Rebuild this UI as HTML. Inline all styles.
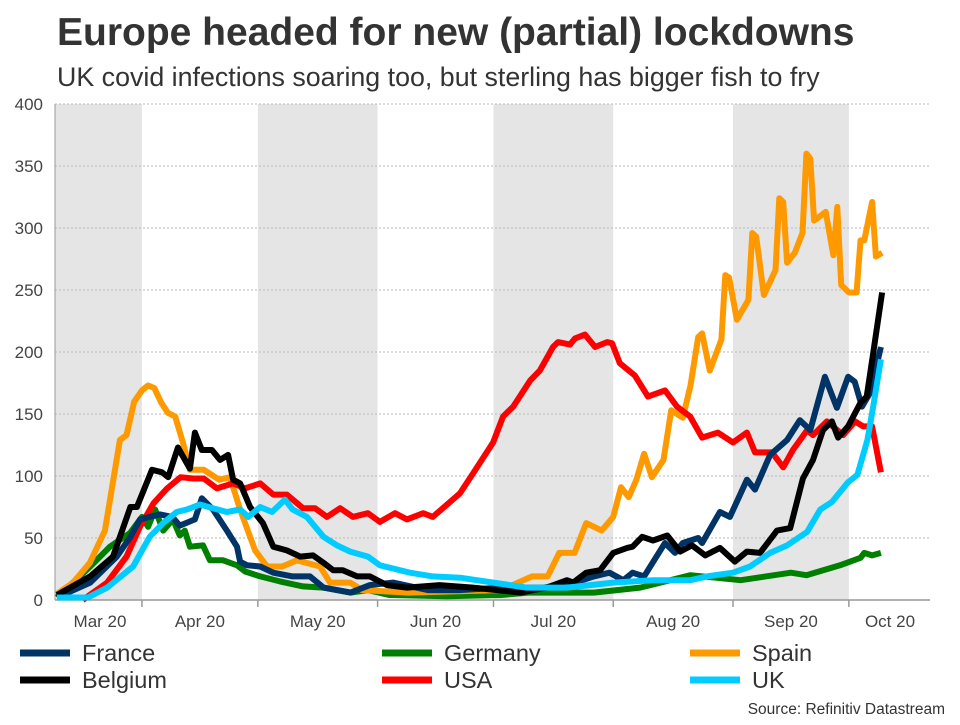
<!DOCTYPE html>
<html><head><meta charset="utf-8"><style>
body{margin:0;background:#fff;font-family:"Liberation Sans",Arial,sans-serif;}
svg text{font-family:"Liberation Sans",Arial,sans-serif;}
</style></head><body>
<svg id="c" width="960" height="720" viewBox="0 0 960 720">
<text x="57" y="45" font-size="39" font-weight="bold" fill="#333">Europe headed for new (partial) lockdowns</text>
<text x="57" y="86" font-size="26.8" fill="#333">UK covid infections soaring too, but sterling has bigger fish to fry</text>
<g id="bands"></g><g id="grid"></g><g id="axes"></g><g id="series"></g><g id="legend"></g>
<text x="945" y="714" font-size="15.5" fill="#333" text-anchor="end">Source: Refinitiv Datastream</text>
</svg>
<script>
const yTicks=[0,50,100,150,200,250,300,350,400];
const monthLabels=["Mar 20","Apr 20","May 20","Jun 20","Jul 20","Aug 20","Sep 20","Oct 20"];
const monthStarts=[0,31,61,92,122,153,184,214];
const seriesNames=["France","Germany","Spain","Belgium","USA","UK"];
const franceDays=[9,17.6,24.5,28,30.5,33,35.7,38.8,40.8,44.7,46.5,49.4,53,55.6,56.4,58.2,61.6,65,70,74.5,78,85,90,96,105,113,124,135,143,148,152,155.6,158,161,164,166.4,169,171,175,176,180.6,183.2,187.6,189.7,193.6,198,201.3,204,207.8,210.9,213.8,215.5,217.4,219.5,222.3];
const franceVals=[2,14,35,51,65,67,69,67,60,65,82,73,56,43,31,28,27,22,19,19,10,6,12,14,8,8,10,10,14,19,22,16,22,19,34,46,38,46,50,46,71,67,97,89,117,129,145,137,180,155,180,176,156,167,204];
const germanyDays=[9,17.6,22.7,27.9,31,32.6,34.4,36.5,39,40.8,42.1,43.4,46.8,48.6,52,55.6,57.7,61.6,66.7,72.7,77.9,84.9,89.5,95,110,124,131,148,160,173,186,199,203,211.7,217,218,220,222.3];
const germanyVals=[2,27,43,54,67,59,73,56,65,52,56,43,44,32,32,28,23,19,15,11,10,6,8,4,3,4,6,6,10,20,16,22,20,28,34,38,36,38];
const spainDays=[9,13.2,17.5,21.4,25.3,27,29,31,32.6,34.2,36,37.7,39.6,41.6,43.4,47,51,53.8,56.4,60.3,63.4,67.3,71.1,77.1,79.7,84.9,88,100,124,132,136,139,143,146,150,153,155,157,159,161,163,166,168,171,173,175,176,178,181,182,183,185,188,189,190,192,195,196,197,198,200,202,203,204,205,208,210,211,212,214,216,217,218,220,221,222.6];
const spainVals=[5,14,30,56,129,133,160,169,173,171,159,151,148,127,105,105,97,99,73,40,27,27,32,27,14,14,8,6,8,19,19,38,38,62,56,67,91,83,97,118,99,113,153,147,173,212,215,185,210,262,260,226,242,296,293,246,266,324,321,272,280,296,360,356,306,313,278,317,254,248,248,290,290,321,277,280];
const belgiumDays=[9,17.6,23.5,28,29.7,33.6,36.2,37.8,40.3,43.4,44.7,46.5,49.1,51.2,53.3,54.6,56.4,59,62.3,65,68.5,72,75.3,78,80.5,83,86.7,90,94.4,99.6,108,116.7,129,135.8,141,142.6,146,149.6,153,156.6,158,160.5,163.3,167,170.3,173.4,176.8,180.6,184.5,187.6,191,195.4,198.8,202.1,204.7,207.3,209.6,211.2,213.8,217,218.6,220.3,222.6];
const belgiumVals=[4,19,35,75,75,105,103,99,123,106,135,121,121,113,117,97,94,75,62,43,40,35,36,30,24,24,19,19,12,10,12,10,6,10,16,14,22,24,38,42,43,51,48,52,39,44,36,42,31,39,38,56,58,98,113,137,144,131,140,159,164,199,248];
const usaDays=[15.7,22,27,30.5,34,37.5,41,44.3,47,50.4,54.6,57.7,61.6,65,68.5,72.7,75.8,78.9,82.3,85.6,89.5,92.6,96.5,99.6,103.8,106.3,113.3,116.7,121.9,124.5,127.1,131.5,134,137.4,138.7,141.8,143.1,145.7,148.3,151.4,152.7,154.7,158.6,162,166.4,169.5,172.9,176,180.1,184,187.6,189.7,194.1,197,199.5,203.2,204.7,208.3,212.5,215.6,217.7,220,222.3];
const usaVals=[0,14,35,59,78,90,99,98,98,90,94,90,94,85,85,74,74,67,74,67,70,63,70,65,70,67,86,102,127,148,156,177,185,204,208,206,211,214,204,208,207,191,181,164,169,156,148,131,135,127,135,119,119,107,121,137,133,144,133,144,140,140,103];
const ukDays=[9,17,22,28.7,33,36.5,40,42.6,46,49.4,53,56.4,58.5,61.6,64.7,68,70,73.7,78,81.5,84.9,89.5,92.6,100.4,106.3,113.3,122,130.6,141,153,163.3,173,177.3,184,188.4,193.6,198,203.2,206.6,209.6,213.8,216.2,218.8,220.3,222.3];
const ukVals=[2,2,10,27,51,62,71,73,77,74,71,73,67,75,71,81,73,67,51,44,39,35,28,22,19,18,14,10,10,14,16,16,19,22,27,38,44,55,73,79,95,101,129,156,194];
const NS='http://www.w3.org/2000/svg';
const X0=22.2,PXD=3.863,Y0=600,PXV=1.24;
function xs(d){return X0+d*PXD;}
function ys(v){return Y0-v*PXV;}
function mk(tag,attrs,parent){const e=document.createElementNS(NS,tag);for(const k in attrs)e.setAttribute(k,attrs[k]);parent.appendChild(e);return e;}
const bands=document.getElementById('bands'),grid=document.getElementById('grid'),axes=document.getElementById('axes'),ser=document.getElementById('series'),leg=document.getElementById('legend');
const xL=55,xR=930,dEnd=(xR-X0)/PXD;
for(let i=0;i<monthStarts.length;i+=2){
 const a=Math.max(xs(monthStarts[i]),xL);
 const b=Math.min(xs(i+1<monthStarts.length?monthStarts[i+1]:dEnd),xR);
 if(b<=a)continue;
 const r=mk('rect',{x:a,y:ys(400),width:b-a,height:ys(0)-ys(400),fill:'#e5e5e5'},bands);
 
 
}
yTicks.forEach(v=>{
 if(v>0){const l=mk('line',{x1:xL,x2:xR,y1:ys(v),y2:ys(v),stroke:'#bbb','stroke-dasharray':'2,2','stroke-width':1},grid);
 
 }
 const t=mk('text',{x:43,y:ys(v)+6,'font-size':17,fill:'#444','text-anchor':'end'},axes);t.textContent=v;
 
 
});
const ax=mk('line',{x1:xL,x2:xR,y1:600,y2:600,stroke:'#999','stroke-width':1.5},axes);


const yax=mk('line',{x1:xL,x2:xL,y1:ys(400),y2:600,stroke:'#999','stroke-width':1},axes);


monthLabels.forEach((m,i)=>{
 const s=monthStarts[i],e=i+1<monthStarts.length?monthStarts[i+1]:s+31;
 if(xs(s)>xL){const tk=mk('line',{x1:xs(s),x2:xs(s),y1:600,y2:607,stroke:'#999','stroke-width':1.5},axes);
 
 }
 let cx=xs((s+e)/2); if(i==0)cx=100; if(i==monthLabels.length-1)cx=890;
 const t=mk('text',{x:cx,y:627,'font-size':17,fill:'#444','text-anchor':'middle'},axes);t.textContent=m;
 
 
});
const colors={France:'#003366',Germany:'#008000',Spain:'#ff9900',Belgium:'#000000',USA:'#ff0000',UK:'#00ccff'};
const data={France:[franceDays,franceVals],Germany:[germanyDays,germanyVals],Spain:[spainDays,spainVals],Belgium:[belgiumDays,belgiumVals],USA:[usaDays,usaVals],UK:[ukDays,ukVals]};
['Germany','Spain','USA','France','Belgium','UK'].forEach(n=>{
 const [d,v]=data[n];
 const pts=d.map((dd,i)=>xs(dd).toFixed(1)+','+ys(v[i]).toFixed(1)).join(' ');
 const p=mk('polyline',{points:pts,fill:'none',stroke:colors[n],'stroke-width':6,'stroke-linejoin':'round','stroke-linecap':'butt'},ser);
 
 
});
const legPos=[[20,653],[382,653],[690,653],[20,680],[382,680],[690,680]];
const legOrder=['France','Germany','Spain','Belgium','USA','UK'];
legOrder.forEach((n,i)=>{
 const [x,y]=legPos[i];
 const g=mk('g',{},leg);
 
 
 mk('line',{x1:x,x2:x+50,y1:y,y2:y,stroke:colors[n],'stroke-width':7},g);
 const t=mk('text',{x:x+62,y:y+8,'font-size':23.5,fill:'#333'},g);t.textContent=n;
});
</script>
</body></html>
